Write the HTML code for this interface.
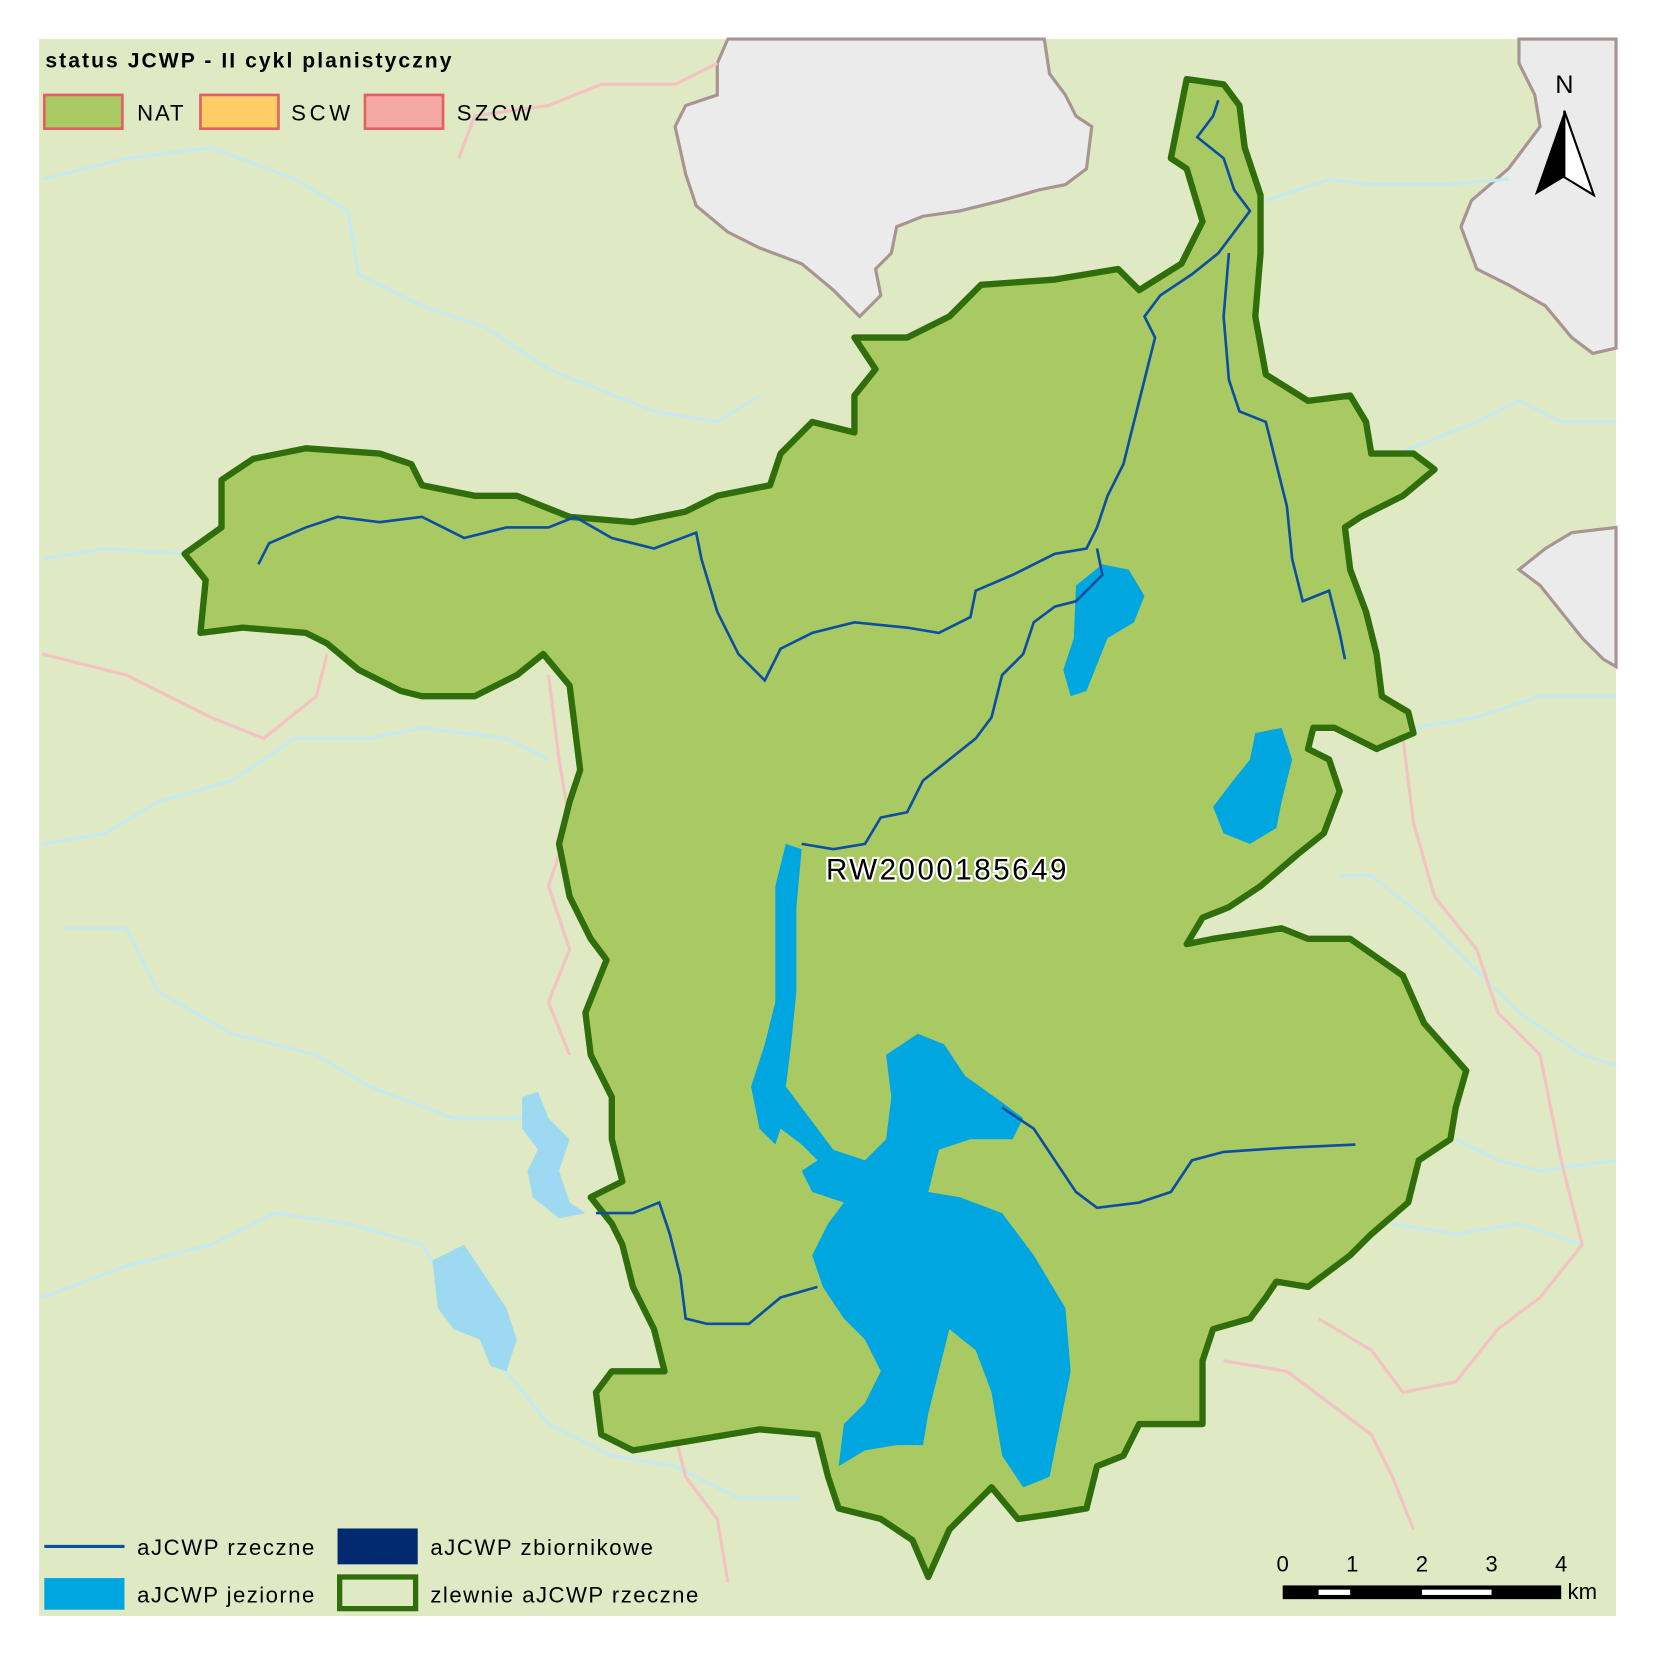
<!DOCTYPE html>
<html><head><meta charset="utf-8"><style>
html,body{margin:0;padding:0;background:#fff}
svg{display:block}
text{font-family:"Liberation Sans",Arial,sans-serif}
</style></head><body>
<svg width="1654" height="1654" viewBox="0 0 1568 1568">
<rect x="0" y="0" width="1568" height="1568" fill="#fff"/>
<rect x="37" y="37" width="1495" height="1495" fill="#dfe9c4"/>
<g fill="#ebebeb" stroke="#a89490" stroke-width="3">
<path d="M690,37 L990,37 L995,70 L1010,90 L1020,110 L1035,120 L1030,160 L1010,175 L985,180 L950,190 L910,200 L875,205 L850,215 L845,240 L830,255 L835,280 L815,300 L790,275 L760,250 L720,235 L690,220 L660,195 L650,165 L640,120 L650,100 L680,90 L680,60 Z"/>
<path d="M1440,37 L1532,37 L1532,330 L1510,335 L1490,320 L1465,290 L1430,270 L1400,255 L1385,215 L1395,190 L1430,160 L1460,120 L1455,90 L1440,60 Z"/>
<path d="M1532,500 L1490,505 L1465,520 L1440,540 L1460,555 L1480,580 L1500,605 L1520,625 L1532,632 Z"/>
</g>
<g fill="none" stroke="#c4eaf0" stroke-width="3">
<path d="M40,170 L120,150 L200,140 L280,170 L330,200 L340,260 L400,290 L460,310 L520,350 L570,370 L620,390 L680,400 L720,375"/>
<path d="M40,530 L100,520 L175,525"/>
<path d="M40,800 L100,790 L150,760 L220,740 L280,700 L350,700 L400,690 L480,700 L520,720"/>
<path d="M60,880 L120,880 L150,940 L220,980 L300,1000 L350,1030 L430,1060 L500,1060"/>
<path d="M40,1230 L120,1200 L200,1180 L260,1150 L330,1160 L400,1180 L430,1230 L480,1300 L520,1350 L580,1380 L640,1390 L700,1420 L760,1420"/>
<path d="M1200,190 L1260,170 L1300,175 L1370,175 L1430,170"/>
<path d="M1300,440 L1350,420 L1400,400 L1440,380 L1480,400 L1532,400"/>
<path d="M1340,690 L1400,680 L1460,660 L1532,660"/>
<path d="M1270,830 L1300,830 L1350,870 L1400,920 L1440,960 L1500,1000 L1532,1010"/>
<path d="M1380,1080 L1420,1100 L1460,1110 L1532,1100"/>
<path d="M1320,1160 L1380,1170 L1440,1160 L1500,1180"/>
</g>
<g fill="none" stroke="#f4c2c2" stroke-width="3">
<path d="M435,150 L450,110 L520,100 L570,80 L640,80 L680,60"/>
<path d="M40,620 L120,640 L200,680 L250,700 L300,660 L310,620"/>
<path d="M520,640 L530,720 L540,780 L520,840 L540,900 L520,950 L540,1000"/>
<path d="M640,1360 L650,1400 L680,1440 L690,1500"/>
<path d="M1330,700 L1340,780 L1360,850 L1400,900 L1420,960 L1460,1000 L1480,1100 L1500,1180 L1460,1230 L1420,1260 L1380,1310 L1330,1320 L1300,1280 L1250,1250"/>
<path d="M1160,1290 L1220,1300 L1260,1330 L1300,1360 L1320,1400 L1340,1450"/>
</g>
<g fill="#9dd9f0">
<path d="M495,1040 L510,1035 L520,1060 L540,1080 L530,1110 L540,1140 L555,1150 L530,1155 L505,1135 L500,1110 L510,1090 L495,1070 Z"/>
<path d="M410,1195 L440,1180 L460,1210 L480,1240 L490,1270 L480,1300 L465,1295 L455,1270 L430,1260 L415,1240 Z"/>
</g>
<path fill="#a9ca63" stroke="#2f6e0a" stroke-width="6" stroke-linejoin="round" d="M1125,75 L1160,80 L1175,100 L1180,140 L1195,185 L1195,240 L1190,300 L1200,355 L1240,380 L1280,375 L1295,400 L1300,430 L1340,430 L1360,445 L1330,470 L1290,490 L1275,500 L1280,540 L1295,580 L1305,620 L1310,660 L1335,675 L1340,695 L1305,710 L1265,690 L1245,690 L1240,710 L1260,720 L1270,750 L1255,790 L1230,810 L1195,840 L1165,860 L1140,870 L1125,895 L1150,890 L1215,880 L1240,890 L1280,890 L1330,925 L1350,970 L1390,1015 L1380,1050 L1375,1080 L1345,1100 L1335,1140 L1300,1170 L1280,1190 L1240,1220 L1210,1215 L1200,1230 L1185,1250 L1150,1260 L1140,1290 L1140,1350 L1080,1350 L1065,1380 L1040,1390 L1030,1430 L1000,1435 L965,1440 L940,1410 L920,1430 L900,1450 L880,1495 L865,1460 L835,1440 L795,1430 L785,1400 L775,1360 L720,1355 L660,1365 L600,1375 L570,1360 L565,1320 L580,1300 L630,1300 L620,1260 L600,1220 L590,1180 L580,1160 L560,1135 L590,1120 L580,1080 L580,1040 L560,1000 L555,960 L575,910 L560,890 L540,850 L530,800 L540,760 L550,730 L545,690 L540,650 L515,620 L490,640 L450,660 L400,660 L380,655 L340,635 L310,610 L290,600 L230,595 L190,600 L195,550 L175,525 L210,500 L210,455 L240,435 L290,425 L360,430 L390,440 L400,460 L450,470 L490,470 L540,490 L600,495 L650,485 L680,470 L730,460 L740,430 L770,400 L810,410 L810,375 L830,350 L810,320 L860,320 L900,300 L930,270 L1000,265 L1060,255 L1080,275 L1120,250 L1140,210 L1125,160 L1110,150 L1120,100 Z"/>
<g fill="#00a6e0">
<path d="M1020,555 L1045,535 L1070,540 L1085,565 L1075,590 L1050,605 L1040,630 L1030,655 L1015,660 L1008,635 L1018,605 Z"/>
<path d="M1165,745 L1185,720 L1190,695 L1215,690 L1225,720 L1215,760 L1210,785 L1185,800 L1160,790 L1150,765 Z"/>
<path d="M745,800 L760,805 L755,860 L755,940 L750,990 L745,1030 L760,1050 L790,1090 L820,1100 L840,1080 L845,1040 L840,1000 L870,980 L895,990 L915,1020 L950,1045 L970,1060 L960,1080 L920,1080 L890,1090 L880,1130 L910,1135 L950,1150 L980,1190 L1010,1240 L1015,1300 L1005,1350 L995,1400 L970,1410 L950,1380 L940,1320 L925,1280 L900,1260 L890,1300 L880,1340 L875,1370 L850,1370 L820,1375 L795,1390 L800,1350 L820,1330 L835,1300 L820,1270 L800,1250 L780,1220 L770,1190 L785,1160 L800,1140 L770,1130 L760,1110 L775,1100 L760,1085 L740,1070 L735,1085 L720,1070 L712,1030 L725,990 L735,950 L735,890 L735,840 Z"/>
</g>
<g fill="none" stroke="#0c4ea0" stroke-width="2.5">
<path d="M245,535 L255,515 L290,500 L320,490 L360,495 L400,490 L440,510 L480,500 L520,500 L545,490 L580,510 L620,520 L660,505 L665,530 L680,580 L700,620 L725,645 L740,615 L770,600 L810,590 L860,595 L890,600 L920,585 L925,560 L960,545 L1000,525 L1030,520 L1040,500 L1050,470 L1065,440 L1075,400 L1085,360 L1095,320 L1085,300 L1100,280 L1130,260 L1155,240 L1170,220 L1185,200 L1170,180 L1160,150 L1135,130 L1150,110 L1155,95"/>
<path d="M1040,520 L1045,545 L1020,570 L1000,575 L980,590 L970,620 L950,640 L940,680 L925,700 L900,720 L875,740 L860,770 L835,775 L820,800 L790,805 L760,800"/>
<path d="M1165,240 L1160,300 L1165,360 L1175,390 L1200,400 L1210,440 L1220,480 L1225,530 L1235,570 L1260,560 L1270,600 L1275,625"/>
<path d="M950,1050 L980,1070 L1000,1100 L1020,1130 L1040,1145 L1080,1140 L1110,1130 L1130,1100 L1160,1092 L1220,1088 L1285,1085"/>
<path d="M565,1150 L600,1150 L625,1140 L635,1170 L645,1210 L650,1250 L670,1255 L710,1255 L740,1230 L775,1220"/>
</g>
<text x="897" y="834" text-anchor="middle" font-size="28" textLength="228" fill="#000" stroke="#fff" stroke-width="4" paint-order="stroke">RW2000185649</text>
<g>
<text x="43" y="64" font-size="20" font-weight="bold" textLength="385">status JCWP  - II cykl planistyczny</text>
<rect x="42" y="90" width="74" height="32" fill="#a9ca63" stroke="#e36060" stroke-width="2.5"/>
<text x="130" y="114" font-size="21" textLength="44">NAT</text>
<rect x="190" y="90" width="74" height="32" fill="#ffcc66" stroke="#e36060" stroke-width="2.5"/>
<text x="276" y="114" font-size="21" textLength="56">SCW</text>
<rect x="346" y="90" width="74" height="32" fill="#f5a9a5" stroke="#e36060" stroke-width="2.5"/>
<text x="433" y="114" font-size="21" textLength="71">SZCW</text>
</g>
<g>
<line x1="42" y1="1466" x2="118" y2="1466" stroke="#0c4ea0" stroke-width="3"/>
<text x="130" y="1474" font-size="21" textLength="168">aJCWP rzeczne</text>
<rect x="42" y="1496" width="76" height="30" fill="#00a6e0"/>
<text x="130" y="1519" font-size="21" textLength="168">aJCWP jeziorne</text>
<rect x="320" y="1449" width="76" height="34" fill="#022a70"/>
<text x="408" y="1474" font-size="21" textLength="211">aJCWP zbiornikowe</text>
<rect x="322" y="1495" width="72" height="30" fill="#dfe9c4" stroke="#2f6e0a" stroke-width="5"/>
<text x="408" y="1519" font-size="21" textLength="254">zlewnie aJCWP rzeczne</text>
</g>
<g>
<rect x="1216" y="1503" width="264" height="13" fill="#000"/>
<rect x="1250" y="1507" width="30" height="5" fill="#fff"/>
<rect x="1348" y="1507" width="66" height="5" fill="#fff"/>
<g font-size="21" text-anchor="middle">
<text x="1216" y="1490">0</text><text x="1282" y="1490">1</text><text x="1348" y="1490">2</text><text x="1414" y="1490">3</text><text x="1480" y="1490">4</text>
</g>
<text x="1486" y="1516" font-size="21">km</text>
</g>
<g>
<text x="1483" y="88" font-size="24" text-anchor="middle" font-family="Liberation Serif,serif">N</text>
<path d="M1483,105 L1455,185 L1483,168 Z" fill="#000"/>
<path d="M1483,105 L1511,185 L1483,168 Z" fill="#fff" stroke="#000" stroke-width="2"/>
</g>
</svg>
</body></html>
